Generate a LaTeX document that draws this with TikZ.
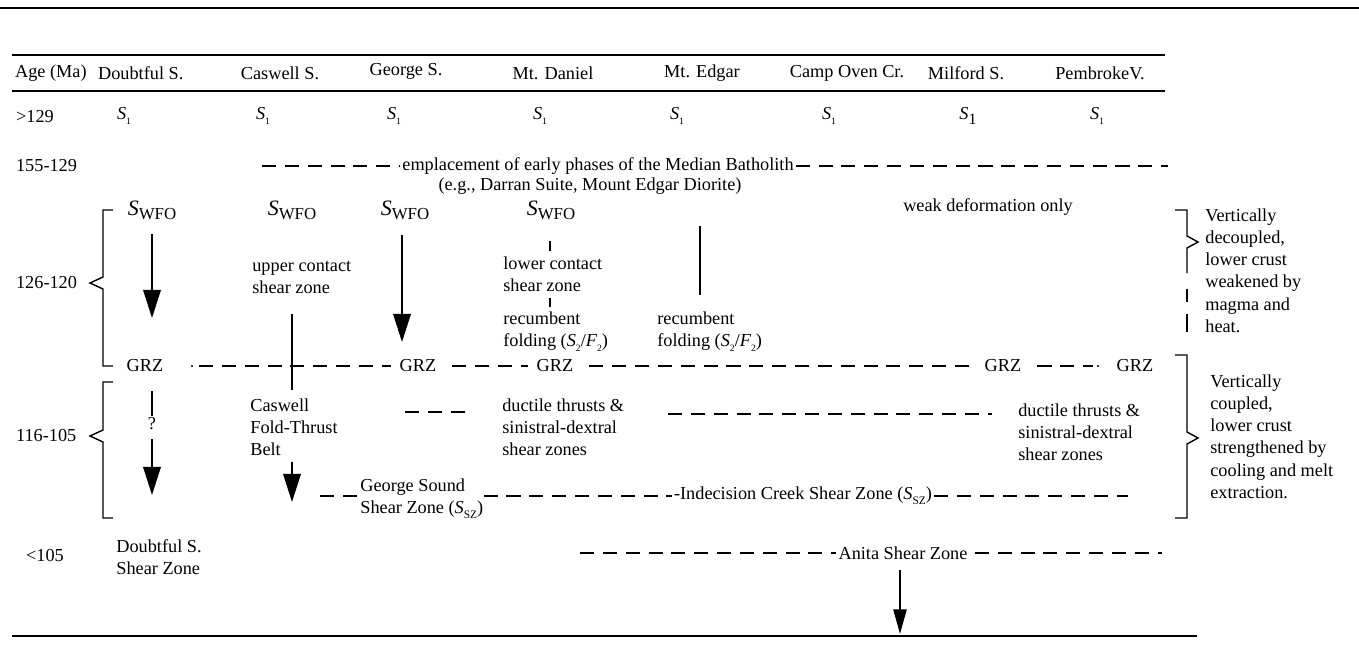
\documentclass[tikz,border=0pt]{standalone}
\usepackage{fontspec}
\setmainfont{Liberation Serif}
\usetikzlibrary{arrows.meta}

\newcommand\sone{\textit{S}\raisebox{-.6ex}{\fontsize{5.5}{5}\selectfont 1}}
\newcommand\swfo{{\fontsize{12.5}{12}\selectfont\textit{S}}\raisebox{-.45ex}{\fontsize{9.6}{8}\selectfont WFO}}
\newcommand\ssz{\textit{S}\raisebox{-.6ex}{\fontsize{6.5}{6}\selectfont SZ}}
\newcommand\sfold{\textit{S}\raisebox{-.6ex}{\fontsize{5.5}{5}\selectfont 2}/\textit{F}\raisebox{-.6ex}{\fontsize{5.5}{5}\selectfont 2}}

\begin{document}
\begin{tikzpicture}[x=0.02cm,y=-0.02cm,font=\fontsize{10.4}{12.7}\selectfont,
 lbl/.style={inner sep=1pt},blk/.style={align=left,anchor=north west,inner sep=0pt},
 rule/.style={line width=1.1pt},dsh/.style={line width=1pt,dash pattern=on 8pt off 5pt},
 arr/.style={line width=1pt,-{Triangle[length=16pt,width=10pt]}},
 brc/.style={line width=.8pt}]
\useasboundingbox (0,0) rectangle (1359,659);
% rules
\draw[rule] (0,8) -- (1359,8);
\draw[rule] (12,55) -- (1165,55);
\draw[line width=1.6pt] (12,91) -- (1165,91);
\draw[rule] (12,636) -- (1197,636);
% header
\node[lbl,anchor=west] (hAge) at (13,73) {Age (Ma)};
\node[lbl,anchor=west] (hDoubtful) at (96,73) {Doubtful S.};
\node[lbl] (hCaswell) at (280,73) {Caswell S.};
\node[lbl] (hGeorge) at (406,71) {George S.};
\node[lbl] (hDaniel) at (553,73) {Mt. Daniel};
\node[lbl] (hEdgar) at (702,73) {Mt. Edgar};
\node[lbl] (hCamp) at (847,73) {Camp Oven Cr.};
\node[lbl] (hMilford) at (966,73) {Milford S.};
\node[lbl] (hPembroke) at (1100,73) {PembrokeV.};
% ages
\node[lbl,anchor=west] (aOld) at (14,117) {>129};
\node[lbl,anchor=west] (aEarly) at (14,166) {155-129};
\node[lbl,anchor=west] (aMid) at (14,283) {126-120};
\node[lbl,anchor=west] (aLate) at (14,436) {116-105};
\node[lbl,anchor=west] (aYoung) at (24,556) {<105};
% S1 row
\foreach \x/\n in {124/d,263/c,394/g,540/m,677/e,829/o,1097/p}
  \node[lbl] (s1\n) at (\x,116) {\sone};
\node[lbl] (s1f) at (968,116) {\textit{S}\raisebox{-.6ex}{\fontsize{9}{9}\selectfont 1}};
% batholith row
\node[lbl] (empl) at (598,166) {emplacement of early phases of the Median Batholith};
\node[lbl] (emplEg) at (590,186) {(e.g., Darran Suite, Mount Edgar Diorite)};
\coordinate (emplL) at (262,166);
\coordinate (emplR) at (1168,166);
\draw[dsh] (emplL) -- (empl.west);
\draw[dsh] (empl.east) -- (emplR);
% 126-120 braces
\draw[brc] (113,210) -- (103,210) -- (103,277) -- (90,283) -- (103,289) -- (103,366) -- (113,366);
\draw[brc] (1175,210) -- (1187,210) -- (1187,236) -- (1198,242) -- (1187,248) -- (1187,273);
\draw[brc] (1187,289) -- (1187,302);
\draw[brc] (1187,314) -- (1187,332);
\node[blk] (decoupled) at (1205,208) {Vertically\\decoupled,\\lower crust\\weakened by\\magma and\\heat.};
% 126-120 columns
\node[lbl] (wfoD) at (152,210) {\swfo};
\node[lbl] (wfoC) at (292,210) {\swfo};
\node[lbl] (wfoG) at (405,210) {\swfo};
\node[lbl] (wfoM) at (551,210) {\swfo};
\node[lbl] (weak) at (988,207) {weak deformation only};
\coordinate (startD) at (152,234);
\coordinate (tipD) at (152,318);
\coordinate (startG) at (402,235);
\coordinate (tipG) at (402,342);
\draw[arr] (startD) -- (tipD);
\draw[arr] (startG) -- (tipG);
\node[blk] (upperC) at (252,261) {upper contact\\shear zone};
\node[blk] (lowerC) at (503,256) {lower contact\\shear zone};
\node[blk] (recM) at (503,311) {recumbent\\folding (\sfold)};
\node[blk] (recE) at (657,311) {recumbent\\folding (\sfold)};
\coordinate (tickA) at (550,241);
\coordinate (tickB) at (550,298);
\draw[line width=1pt] (tickA) -- ++(0,10);
\draw[line width=1pt] (tickB) -- ++(0,9);
\coordinate (edgarTop) at (700,226);
\coordinate (edgarBot) at (700,295);
\draw[line width=1pt] (edgarTop) -- (edgarBot);
% GRZ row
\node[lbl] (grzD) at (145,366) {GRZ};
\node[lbl] (grzG) at (418,366) {GRZ};
\node[lbl] (grzM) at (555,366) {GRZ};
\node[lbl] (grzO) at (1003,366) {GRZ};
\node[lbl] (grzP) at (1135,366) {GRZ};
\coordinate (dotD) at (192,366);
\coordinate (dotP) at (1098,366);
\fill (dotD) circle (1.2);
\fill (dotP) circle (1.2);
\draw[dsh] ([xshift=4pt]dotD) -- ([xshift=-4pt]grzG.west);
\draw[dsh] ([xshift=8pt]grzG.east) -- ([xshift=-4pt]grzM.west);
\draw[dsh] ([xshift=8pt]grzM.east) -- ([xshift=-4pt]grzO.west);
\draw[dsh] ([xshift=8pt]grzO.east) -- ([xshift=-3pt]dotP);
% 116-105 braces
\draw[brc] (113,382) -- (103,382) -- (103,430) -- (90,436) -- (103,442) -- (103,518) -- (113,518);
\draw[brc] (1175,355) -- (1187,355) -- (1187,432) -- (1198,438) -- (1187,444) -- (1187,518) -- (1175,518);
\node[blk] (coupled) at (1210,374) {Vertically\\coupled,\\lower crust\\strengthened by\\cooling and melt\\extraction.};
% 116-105 columns
\node[lbl] (query) at (152,424) {?};
\coordinate (qTop) at (152,391);
\coordinate (tipQ) at (152,495);
\draw[line width=1pt] (qTop) -- (query.north);
\draw[arr] ([yshift=-4pt]query.south) -- (tipQ);
\node[blk] (caswellB) at (250,398) {Caswell\\Fold-Thrust\\Belt};
\coordinate (caswellTop) at (292,314);
\coordinate (caswellBot) at (292,390);
\draw[line width=1pt] (caswellTop) -- (caswellBot);
\coordinate (startC) at (292,462);
\coordinate (tipC) at (292,502);
\draw[arr] (startC) -- (tipC);
\coordinate (thrL) at (405,412);
\coordinate (thrR) at (472,412);
\draw[dsh] (thrL) -- (thrR);
\node[blk] (ductileM) at (502,398) {ductile thrusts \&\\sinistral-dextral\\shear zones};
\node[blk] (ductileO) at (1018,403) {ductile thrusts \&\\sinistral-dextral\\shear zones};
\coordinate (thrM) at (668,414);
\coordinate (thrO) at (992,414);
\draw[dsh] (thrM) -- (thrO);
\node[blk] (georgeSZ) at (360,478) {George Sound\\Shear Zone (\ssz)};
\coordinate (georgeL) at (320,496);
\draw[dsh] (georgeL) -- (georgeL -| georgeSZ.west);
\node[lbl] (indecision) at (803,496) {-Indecision Creek Shear Zone (\ssz)};
\coordinate (indecisionR) at (1128,496);
\draw[dsh] (indecision.west -| georgeSZ.east) -- (indecision.west);
\draw[dsh] (indecision.east) -- (indecisionR);
% <105 row
\node[blk] (doubtfulSZ) at (116,539) {Doubtful S.\\Shear Zone};
\node[lbl] (anita) at (903,553) {Anita Shear Zone};
\coordinate (anitaL) at (580,553);
\coordinate (anitaR) at (1162,553);
\coordinate (anitaTop) at (900,570);
\coordinate (anitaTip) at (900,634);
\draw[dsh] (anitaL) -- (anita.west);
\draw[dsh] ([xshift=3pt]anita.east) -- (anitaR);
\draw[line width=1pt,-{Triangle[length=14pt,width=7.5pt]}] (anitaTop) -- (anitaTip);
\end{tikzpicture}
\end{document}
